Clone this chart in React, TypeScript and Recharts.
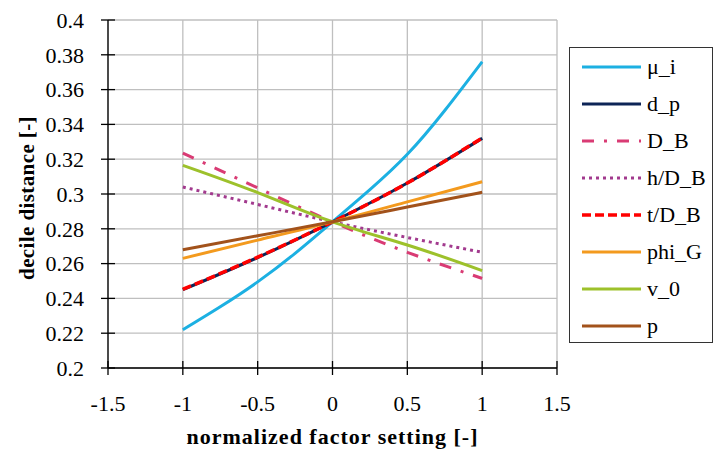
import React from 'react';
import { LineChart, Line, XAxis, YAxis, CartesianGrid, Legend } from 'recharts';

// normalized factor settings
const xFine = [-1, -0.75, -0.5, -0.25, 0, 0.25, 0.5, 0.75, 1];
const xCoarse = [-1, -0.5, 0, 0.5, 1];

// decile distance per factor
const muI = [0.222, 0.2352, 0.2495, 0.2659, 0.284, 0.3025, 0.3228, 0.348, 0.376];
const dP = [0.245, 0.2635, 0.284, 0.3063, 0.332];
const dB = [0.3235, 0.3035, 0.284, 0.2665, 0.2515];
const hDB = [0.304, 0.294, 0.284, 0.275, 0.2665];
const tDB = [0.2452, 0.2637, 0.284, 0.3063, 0.3322];
const phiG = [0.263, 0.2735, 0.284, 0.2955, 0.307];
const v0 = [0.3165, 0.3008, 0.284, 0.2707, 0.256];
const pP = [0.268, 0.276, 0.284, 0.2925, 0.301];

const xTicks = [-1.5, -1, -0.5, 0, 0.5, 1, 1.5];
const yTicks = [0.2, 0.22, 0.24, 0.26, 0.28, 0.3, 0.32, 0.34, 0.36, 0.38, 0.4];

const FONT = '"Liberation Serif", "DejaVu Serif", serif';

const toRows = (xs: number[], ys: number[]) => xs.map((x, i) => ({ x, y: ys[i] }));

const series = [
  { name: 'μ_i', xs: xFine, ys: muI, color: '#1CB0E2', dash: undefined, width: 3 },
  { name: 'd_p', xs: xCoarse, ys: dP, color: '#0D2456', dash: undefined, width: 3 },
  { name: 'D_B', xs: xCoarse, ys: dB, color: '#D93B74', dash: '12 10 3 10', width: 3 },
  { name: 'h/D_B', xs: xCoarse, ys: hDB, color: '#A23A8E', dash: '3 4', width: 3 },
  { name: 't/D_B', xs: xCoarse, ys: tDB, color: '#FF0000', dash: '9 4', width: 3.5 },
  { name: 'phi_G', xs: xCoarse, ys: phiG, color: '#F39A1E', dash: undefined, width: 3 },
  { name: 'v_0', xs: xCoarse, ys: v0, color: '#9DC12B', dash: undefined, width: 3 },
  { name: 'p', xs: xCoarse, ys: pP, color: '#A2521B', dash: undefined, width: 3 },
];

const YTick = ({ x, y, payload }: any) => (
  <g>
    <line x1={x + 17} x2={x + 31} y1={y} y2={y} stroke="#000" strokeWidth={1.3} />
    <text x={x} y={y} dy="0.35em" textAnchor="end" fontFamily={FONT} fontSize={22} fill="#000">
      {String(+payload.value.toFixed(2))}
    </text>
  </g>
);

const XTick = ({ x, y, payload }: any) => (
  <g>
    <line x1={x} x2={x} y1={y - 34} y2={y - 20} stroke="#000" strokeWidth={1.3} />
    <text x={x} y={y} dy="0.71em" textAnchor="middle" fontFamily={FONT} fontSize={22} fill="#000">
      {String(payload.value)}
    </text>
  </g>
);

const LegendBox = () => (
  <div
    style={{
      width: 144,
      height: 296,
      boxSizing: 'border-box',
      border: '1.3px solid #333',
      background: '#fff',
      fontFamily: FONT,
      fontSize: 22,
    }}
  >
    {series.map((s) => (
      <div key={s.name} style={{ height: 37, display: 'flex', alignItems: 'center' }}>
        <svg width={77} height={10} style={{ flex: 'none' }}>
          <line x1={12} x2={71} y1={5} y2={5} stroke={s.color} strokeWidth={s.width} strokeDasharray={s.dash} />
        </svg>
        <span style={{ color: '#000', lineHeight: 1 }}>{s.name}</span>
      </div>
    ))}
  </div>
);

export default function App() {
  return (
    <div style={{ position: 'absolute', left: 0, top: 0, background: '#fff' }}>
      <LineChart width={717} height={452} margin={{ top: 20, right: 160, left: 0, bottom: 0 }}>
        <CartesianGrid stroke="#BFBFBF" strokeWidth={1.3} horizontalValues={yTicks} verticalValues={xTicks} />
        <XAxis
          type="number"
          dataKey="x"
          domain={[-1.5, 1.5]}
          ticks={xTicks}
          allowDuplicatedCategory={false}
          height={84}
          tickSize={7}
          tickMargin={20}
          tickLine={false}
          axisLine={{ stroke: '#000', strokeWidth: 1.3 }}
          tick={<XTick />}
          label={(props: any) => {
            const vb = props.viewBox;
            return (
              <text x={vb.x + vb.width / 2} y={vb.y + 76} textAnchor="middle" fontFamily={FONT} fontSize={22} letterSpacing={1} fontWeight="bold" fill="#000">
                normalized factor setting [-]
              </text>
            );
          }}
        />
        <YAxis
          type="number"
          domain={[0.2, 0.4]}
          ticks={yTicks}
          width={108}
          tickSize={7}
          tickMargin={17}
          tickLine={false}
          axisLine={{ stroke: '#000', strokeWidth: 1.3 }}
          tick={<YTick />}
          label={(props: any) => {
            const vb = props.viewBox;
            const cy = vb.y + vb.height / 2 + 4;
            return (
              <text x={27} y={cy} transform={`rotate(-90, 27, ${cy})`} dy="0.35em" textAnchor="middle" fontFamily={FONT} fontSize={21} letterSpacing={0.4} fontWeight="bold" fill="#000">
                decile distance [-]
              </text>
            );
          }}
        />
        <Legend
          layout="vertical"
          align="center"
          verticalAlign="middle"
          wrapperStyle={{ left: 569, top: 47, width: 144, height: 296 }}
          content={() => <LegendBox />}
        />
        {series.map((s) => (
          <Line
            key={s.name}
            data={toRows(s.xs, s.ys)}
            dataKey="y"
            name={s.name}
            type="natural"
            stroke={s.color}
            strokeWidth={s.width}
            strokeDasharray={s.dash}
            dot={false}
            activeDot={false}
            isAnimationActive={false}
          />
        ))}
      </LineChart>
    </div>
  );
}
